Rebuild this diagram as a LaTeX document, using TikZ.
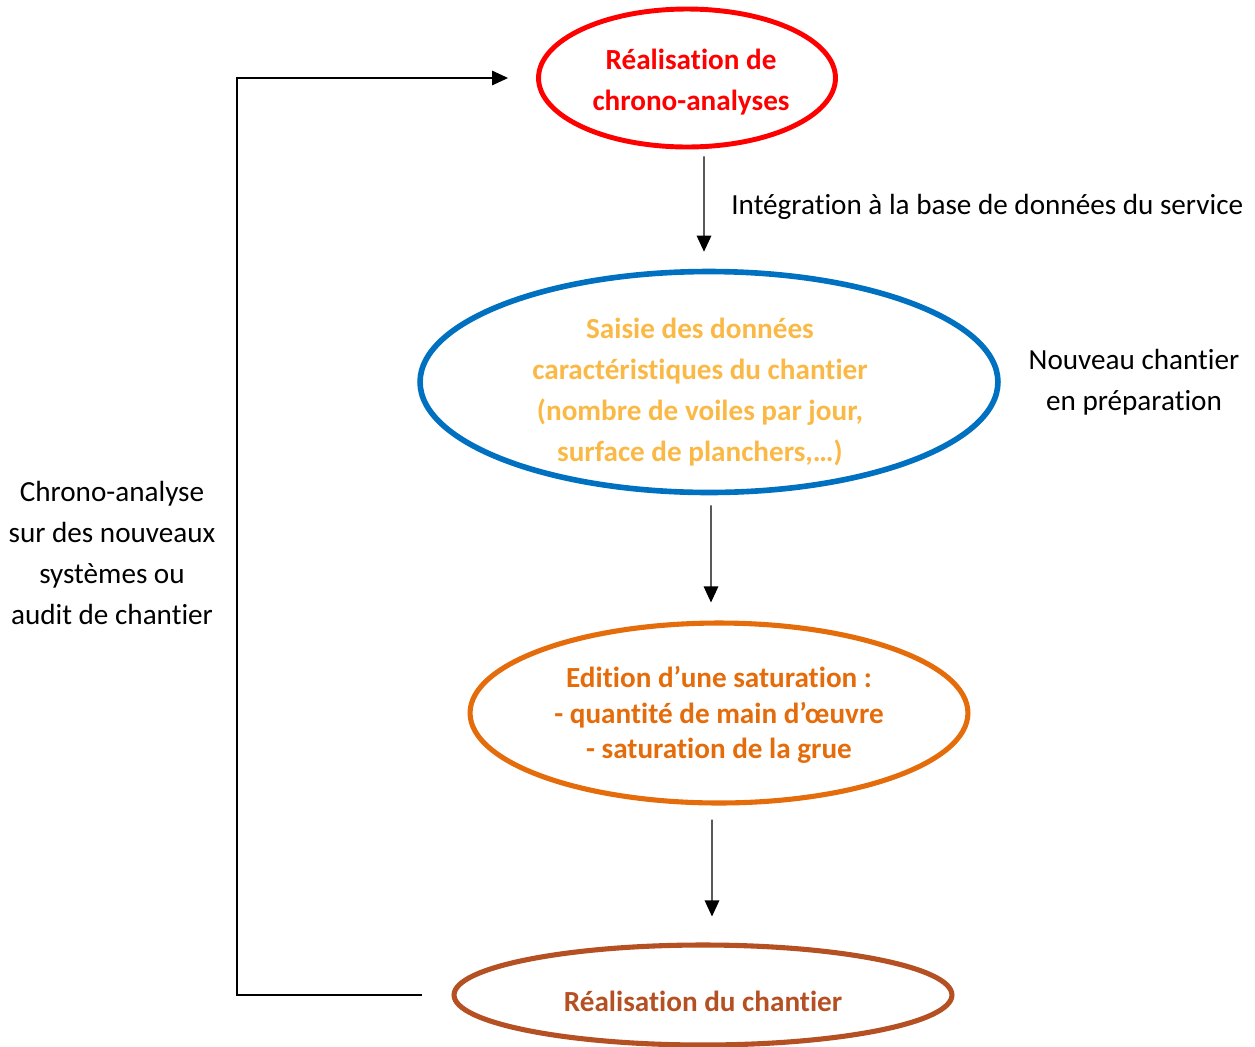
\documentclass[tikz,border=0pt]{standalone}
\usepackage{fontspec}
\setmainfont{Carlito}[Ligatures={NoCommon,NoRequired,NoContextual}, Contextuals=NoAlternate]
\usepackage{xcolor}
\usetikzlibrary{arrows.meta,positioning,shapes.geometric}
\definecolor{cred}{RGB}{255,0,0}
\definecolor{cblue}{RGB}{0,112,192}
\definecolor{cyel}{RGB}{250,185,70}
\definecolor{corg}{RGB}{228,108,10}
\definecolor{cbrn}{RGB}{181,80,35}

\begin{document}
\begin{tikzpicture}[x=0.02cm, y=-0.02cm, >={Triangle[length=0.32cm,width=0.29cm]}, every node/.style={font=\fontsize{16.6}{23.2}\selectfont}]
\tikzstyle{oval}=[ellipse, draw, inner sep=0pt, align=center, font=\fontsize{16.6}{23.2}\selectfont\bfseries]
\tikzstyle{lbl}=[align=center, inner sep=0pt]
\tikzstyle{link}=[->, line width=0.75pt]
\useasboundingbox (0,0) rectangle (1255,1046);
\node[oval, draw=cred, text=cred, line width=2.8pt, minimum width=5.94cm, minimum height=2.76cm] (chr) at (687,78) {};
\node[lbl, text=cred, font=\fontsize{16.6}{23.2}\selectfont\bfseries] (chrt) at (691,82) {Réalisation de\\chrono-analyses};
\node[oval, draw=cblue, line width=3.2pt, minimum width=11.56cm, minimum height=4.42cm] (sai) at (709,382) {};
\node[lbl, text=cyel, font=\fontsize{16.6}{23.2}\selectfont\bfseries] (sait) at (700,392) {Saisie des données\\caractéristiques du chantier\\(nombre de voiles par jour,\\surface de planchers,…)};
\node[oval, draw=corg, line width=2.9pt, minimum width=9.96cm, minimum height=3.6cm] (edi) at (719,713) {};
\node[lbl, text=corg, font=\fontsize{16.6}{20.4}\selectfont\bfseries] (edit) at (719,715) {Edition d’une saturation :\\- quantité de main d’œuvre\\- saturation de la grue};
\node[oval, draw=cbrn, text=cbrn, line width=2.9pt, minimum width=9.96cm, minimum height=2.0cm] (rea) at (703,995) {};
\node[lbl, text=cbrn, font=\fontsize{16.6}{23.2}\selectfont\bfseries] (reat) at (703,1001) {Réalisation du chantier};
% labels
\node[lbl, anchor=west] (integ) at (731,207) {Intégration à la base de données du service};
\node[lbl] (nouv) at (1134,382) {Nouveau chantier\\en préparation};
\node[lbl] (retour) at (112,553) {Chrono-analyse\\sur des nouveaux\\systèmes ou\\audit de chantier};
\coordinate (c1) at (237,995);
\coordinate (c2) at (237,78);
% arrows
\draw[link] ([xshift=0.34cm, yshift=-0.14cm]chr.south) -- ([xshift=-0.1cm, yshift=0.34cm]sai.north);
\draw[link] ([xshift=0.04cm, yshift=-0.2cm]sai.south) -- ([xshift=-0.16cm, yshift=0.36cm]edi.north);
\draw[link] ([xshift=-0.14cm, yshift=-0.28cm]edi.south) -- ([xshift=0.18cm, yshift=0.52cm]rea.north);
\draw[link] ([xshift=-0.6cm]rea.west) -- (c1) -- (c2) -- ([xshift=-0.56cm]chr.west);
\end{tikzpicture}
\end{document}
